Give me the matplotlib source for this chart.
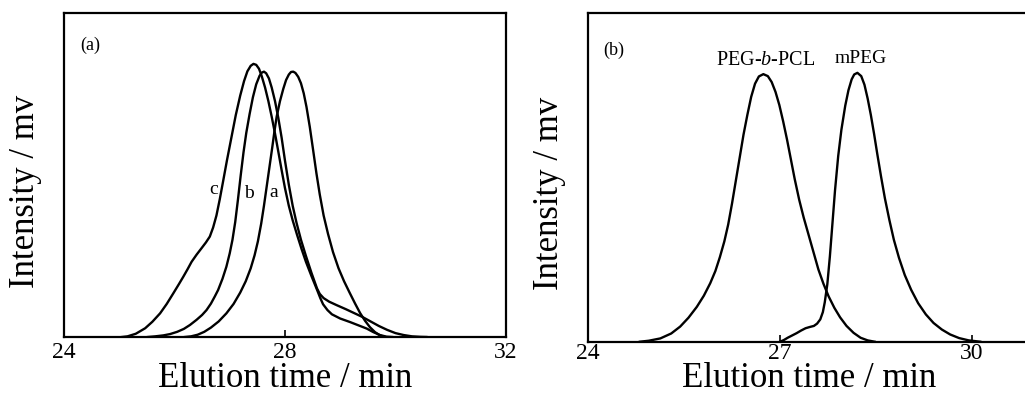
import matplotlib
matplotlib.use("Agg")
import matplotlib.pyplot as plt

plt.rcParams['font.family'] = ['Liberation Serif', 'DejaVu Serif']
plt.rcParams['mathtext.fontset'] = 'custom'
plt.rcParams['mathtext.rm'] = 'Liberation Serif'
plt.rcParams['mathtext.it'] = 'Liberation Serif:italic'

# (a) GPC traces, elution time (min) vs. normalised intensity
t_a = [26.19, 26.30, 26.42, 26.54, 26.66, 26.80, 26.94, 27.07, 27.19, 27.29, 27.38, 27.45,
       27.51, 27.57, 27.62, 27.67, 27.72, 27.77, 27.81, 27.85, 27.91, 27.97, 28.02, 28.07,
       28.11, 28.15, 28.19, 28.24, 28.29, 28.34, 28.39, 28.45, 28.51, 28.57, 28.63, 28.70,
       28.78, 28.87, 28.97, 29.07, 29.17, 29.27, 29.36, 29.45, 29.54, 29.63, 29.72, 29.81]
i_a = [0.000, 0.002, 0.007, 0.016, 0.029, 0.048, 0.073, 0.102, 0.137, 0.172, 0.212, 0.252,
       0.295, 0.350, 0.405, 0.465, 0.525, 0.585, 0.635, 0.680, 0.728, 0.766, 0.793, 0.810,
       0.818, 0.819, 0.815, 0.803, 0.783, 0.752, 0.710, 0.648, 0.577, 0.505, 0.440, 0.375,
       0.318, 0.262, 0.212, 0.172, 0.137, 0.103, 0.074, 0.050, 0.030, 0.015, 0.005, 0.000]

t_b = [25.52, 25.65, 25.80, 25.92, 26.05, 26.17, 26.28, 26.40, 26.50, 26.58, 26.66, 26.73,
       26.79, 26.87, 26.94, 27.00, 27.05, 27.10, 27.15, 27.20, 27.25, 27.30, 27.36, 27.42,
       27.48, 27.54, 27.58, 27.62, 27.66, 27.71, 27.76, 27.82, 27.88, 27.94, 28.00, 28.07,
       28.14, 28.21, 28.29, 28.38, 28.48, 28.58, 28.63, 28.70, 28.80, 28.94, 29.10, 29.25,
       29.40, 29.55, 29.70, 29.85, 30.00, 30.15, 30.30, 30.45, 30.56]
i_b = [0.000, 0.002, 0.005, 0.009, 0.016, 0.025, 0.037, 0.053, 0.068, 0.083, 0.103, 0.125,
       0.145, 0.180, 0.217, 0.258, 0.300, 0.355, 0.425, 0.500, 0.570, 0.630, 0.688, 0.740,
       0.780, 0.806, 0.816, 0.819, 0.814, 0.798, 0.770, 0.728, 0.676, 0.615, 0.545, 0.470,
       0.405, 0.352, 0.300, 0.250, 0.198, 0.150, 0.133, 0.120, 0.109, 0.098, 0.086, 0.074,
       0.062, 0.048, 0.034, 0.022, 0.012, 0.006, 0.002, 0.0005, 0.000]

t_c = [25.05, 25.15, 25.30, 25.47, 25.60, 25.74, 25.86, 25.98, 26.08, 26.16, 26.24, 26.31,
       26.40, 26.49, 26.57, 26.64, 26.70, 26.76, 26.82, 26.88, 26.95, 27.03, 27.11, 27.19,
       27.26, 27.32, 27.38, 27.43, 27.48, 27.53, 27.58, 27.64, 27.70, 27.76, 27.82, 27.88,
       27.94, 28.00, 28.07, 28.14, 28.22, 28.30, 28.38, 28.48, 28.58, 28.64, 28.69, 28.77,
       28.85, 29.00, 29.18, 29.33, 29.48, 29.60, 29.72, 29.84, 29.94]
i_c = [0.000, 0.002, 0.010, 0.027, 0.047, 0.073, 0.102, 0.135, 0.163, 0.186, 0.210, 0.232,
       0.254, 0.274, 0.292, 0.310, 0.338, 0.375, 0.425, 0.480, 0.545, 0.615, 0.685, 0.745,
       0.790, 0.820, 0.837, 0.843, 0.840, 0.828, 0.805, 0.770, 0.728, 0.680, 0.628, 0.572,
       0.515, 0.460, 0.405, 0.360, 0.315, 0.272, 0.232, 0.188, 0.146, 0.120, 0.101, 0.083,
       0.070, 0.057, 0.046, 0.036, 0.026, 0.015, 0.006, 0.001, 0.000]

# (b) block copolymer vs. macroinitiator
t_copo = [24.81, 24.95, 25.13, 25.30, 25.44, 25.57, 25.70, 25.81, 25.91, 25.99, 26.06, 26.13,
          26.19, 26.25, 26.31, 26.37, 26.43, 26.49, 26.55, 26.61, 26.67, 26.74, 26.81, 26.87,
          26.93, 26.99, 27.05, 27.11, 27.17, 27.23, 27.30, 27.37, 27.44, 27.52, 27.60, 27.68,
          27.76, 27.85, 27.94, 28.04, 28.15, 28.26, 28.37, 28.48]
i_copo = [0.000, 0.003, 0.010, 0.025, 0.046, 0.073, 0.106, 0.140, 0.178, 0.215, 0.257, 0.305,
          0.356, 0.420, 0.490, 0.560, 0.630, 0.690, 0.745, 0.785, 0.807, 0.814, 0.808, 0.790,
          0.760, 0.720, 0.670, 0.615, 0.555, 0.495, 0.432, 0.378, 0.330, 0.275, 0.220, 0.176,
          0.138, 0.103, 0.074, 0.048, 0.027, 0.012, 0.004, 0.000]

t_mpeg = [27.00, 27.06, 27.12, 27.19, 27.26, 27.33, 27.40, 27.47, 27.53, 27.58, 27.63, 27.67,
          27.70, 27.74, 27.78, 27.82, 27.86, 27.91, 27.96, 28.02, 28.07, 28.12, 28.16, 28.21,
          28.27, 28.32, 28.37, 28.42, 28.47, 28.52, 28.58, 28.64, 28.71, 28.78, 28.86, 28.95,
          29.05, 29.16, 29.28, 29.40, 29.53, 29.66, 29.80, 29.95, 30.13]
i_mpeg = [0.000, 0.005, 0.012, 0.019, 0.026, 0.034, 0.041, 0.045, 0.048, 0.055, 0.068, 0.090,
          0.120, 0.175, 0.260, 0.360, 0.460, 0.565, 0.645, 0.718, 0.765, 0.798, 0.813, 0.818,
          0.808, 0.782, 0.740, 0.690, 0.633, 0.572, 0.502, 0.436, 0.370, 0.310, 0.255, 0.203,
          0.158, 0.117, 0.083, 0.057, 0.037, 0.022, 0.011, 0.004, 0.000]

ticks_a = [24, 28, 32]
ticks_b = [24, 27, 30]

fig = plt.figure(figsize=(10.25, 3.99), dpi=100)
ax1 = fig.add_axes([0.0624, 0.1554, 0.4312, 0.812])
ax2 = fig.add_axes([0.5737, 0.1436, 0.4307, 0.8238])

lw = 1.7
ax1.plot(t_a, i_a, color='black', lw=lw, solid_joinstyle='round')
ax1.plot(t_b, i_b, color='black', lw=lw, solid_joinstyle='round')
ax1.plot(t_c, i_c, color='black', lw=lw, solid_joinstyle='round')
ax1.set_xlim(24, 32)
ax1.set_xticks(ticks_a)
ax1.text(24.47, 0.90, '(a)', fontsize=13, ha='center', va='center')
ax1.text(26.70, 0.454, 'c', fontsize=14, ha='center', va='center')
ax1.text(27.34, 0.443, 'b', fontsize=14, ha='center', va='center')
ax1.text(27.80, 0.445, 'a', fontsize=14, ha='center', va='center')

ax2.plot(t_copo, i_copo, color='black', lw=lw, solid_joinstyle='round')
ax2.plot(t_mpeg, i_mpeg, color='black', lw=lw, solid_joinstyle='round')
ax2.set_xlim(24, 30.9)
ax2.set_xticks(ticks_b)
ax2.text(24.40, 0.887, '(b)', fontsize=13, ha='center', va='center')
ax2.text(26.77, 0.857, r'PEG-$\mathit{b}$-PCL', fontsize=14.5, ha='center', va='center')
ax2.text(28.27, 0.862, 'mPEG', fontsize=14, ha='center', va='center')

for ax, pad, xl_y, yl_y in [(ax1, 3.8, -0.154, 0.448), (ax2, 0.6, -0.138, 0.451)]:
    ax.set_ylim(0, 1)
    ax.set_yticks([])
    for s in ax.spines.values():
        s.set_linewidth(1.6)
    ax.tick_params(axis='x', direction='in', length=5, width=1.2, labelsize=17, pad=pad,
                   top=False)
    ax.set_xlabel('Elution time / min', fontsize=25, va='baseline')
    ax.xaxis.set_label_coords(0.5, xl_y)
    ax.set_ylabel('Intensity / mv', fontsize=25, va='center')
    ax.yaxis.set_label_coords(-0.088, yl_y)

fig.savefig('out.png', dpi=100)
